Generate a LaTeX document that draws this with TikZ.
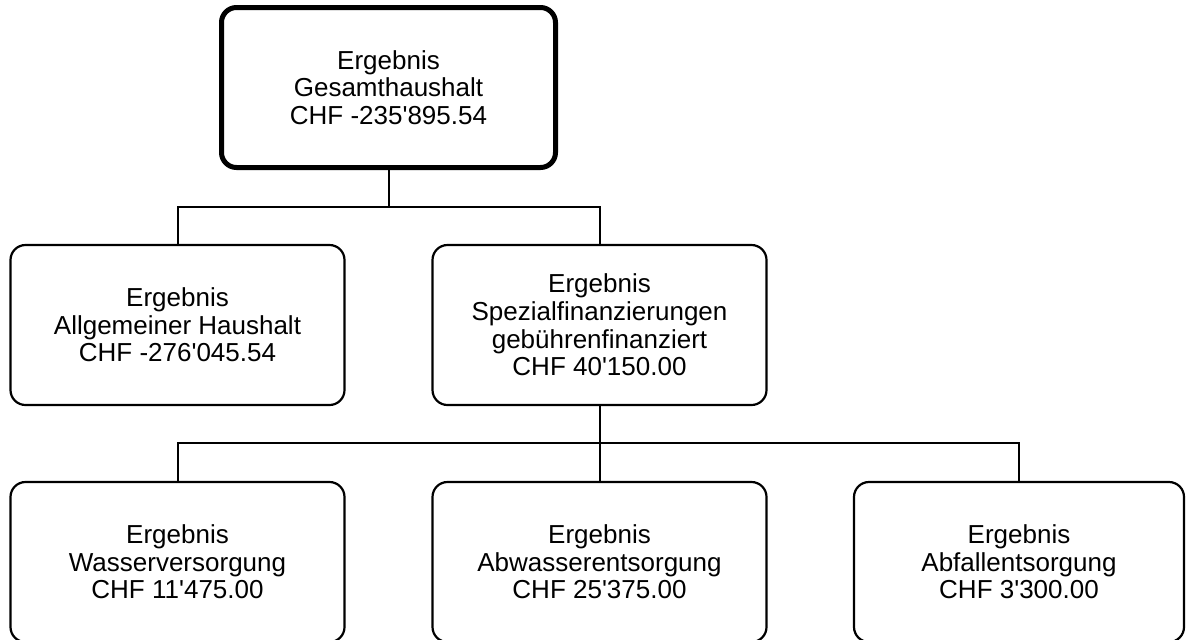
\documentclass[tikz,border=0pt]{standalone}
\usepackage{fontspec}
\setmainfont{Liberation Sans}
\usepackage{tikz}

\begin{document}
\begin{tikzpicture}[x=0.5pt, y=-0.5pt,
        box/.style={rectangle, rounded corners=7.5pt, draw, line width=1.1pt, align=center,
            minimum width=167pt, minimum height=80pt, inner sep=2pt,
            font=\fontsize{13}{13.8}\selectfont},
        topbox/.style={box, line width=2.5pt},
        link/.style={draw, line width=1pt}]
        \useasboundingbox (0,0) rectangle (1187,639);
        \node[topbox] (gesamt) at (388.5,87.5) {Ergebnis\\Gesamthaushalt\\CHF -235\textquotesingle 895.54};
        \node[box] (allg) at (177.5,325) {Ergebnis\\Allgemeiner Haushalt\\CHF -276\textquotesingle 045.54};
        \node[box] (spez) at (599.5,325) {Ergebnis\\Spezialfinanzierungen\\gebührenfinanziert\\CHF 40\textquotesingle 150.00};
        \node[box] (wasser) at (177.5,562) {Ergebnis\\Wasserversorgung\\CHF 11\textquotesingle 475.00};
        \node[box] (abwasser) at (599.5,562) {Ergebnis\\Abwasserentsorgung\\CHF 25\textquotesingle 375.00};
        \node[box, minimum width=165pt] (abfall) at (1019,562) {Ergebnis\\Abfallentsorgung\\CHF 3\textquotesingle 300.00};
        \coordinate (j1) at (388.5,207);
        \coordinate (j2) at (599.5,443);
        % tree connectors
        \draw[link] (gesamt) -- (j1);
        \draw[link] (j1) -| (allg);
        \draw[link] (j1) -| (spez);
        \draw[link] (spez) -- (j2);
        \draw[link] (j2) -| (wasser);
        \draw[link] (j2) -- (abwasser);
        \draw[link] (j2) -| (abfall);
    \end{tikzpicture}
\end{document}
